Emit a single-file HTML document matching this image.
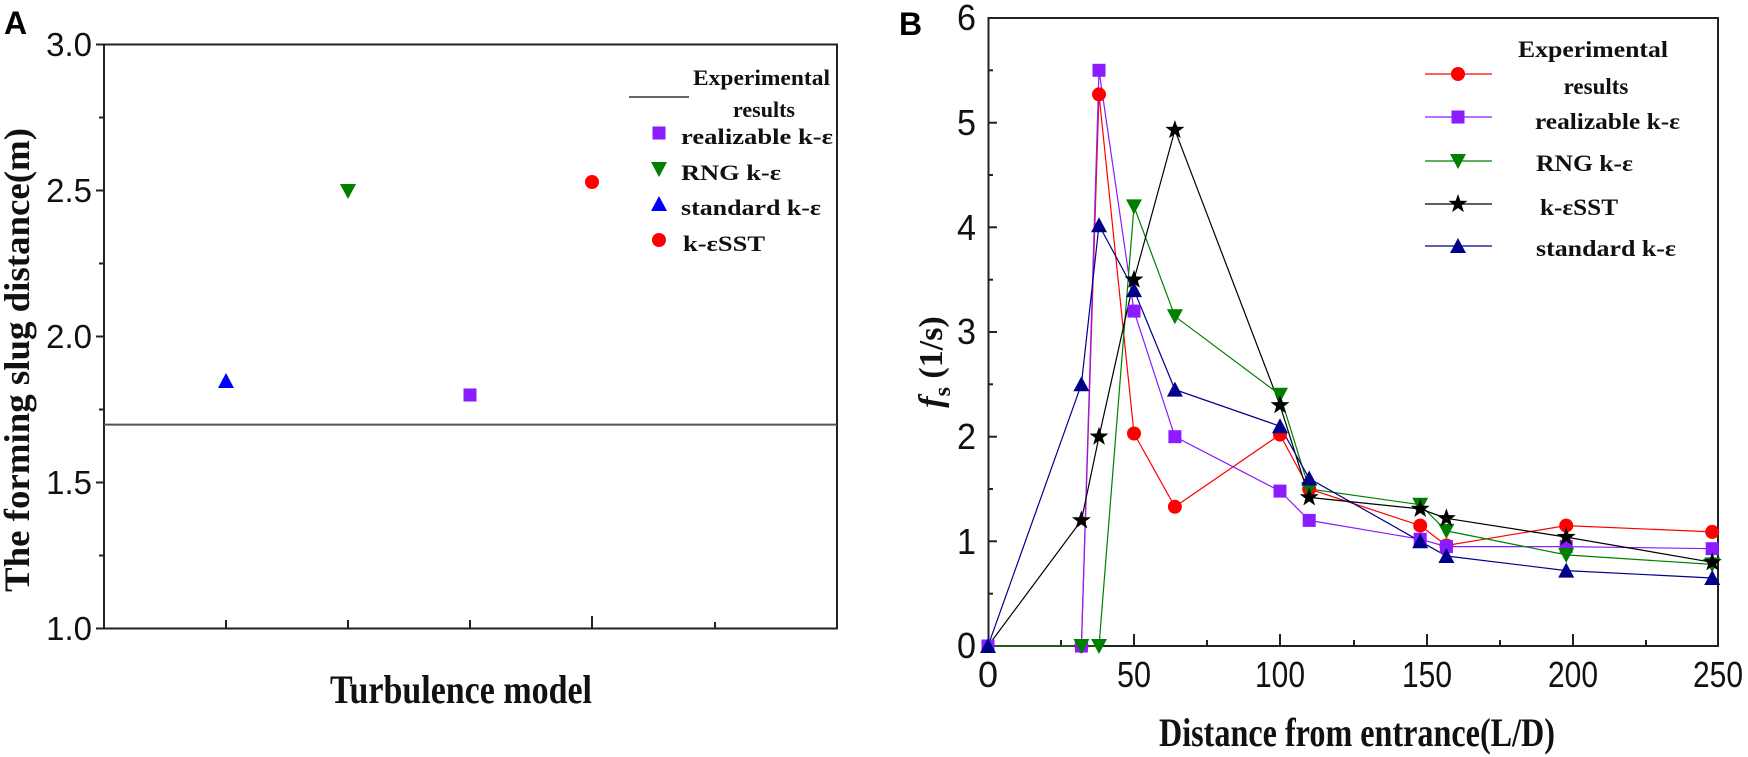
<!DOCTYPE html>
<html><head><meta charset="utf-8"><style>html,body{margin:0;padding:0;background:#fff}svg{display:block}</style></head>
<body>
<svg width="1748" height="757" viewBox="0 0 1748 757" xmlns="http://www.w3.org/2000/svg">
<defs>
<g id="ci"><circle cx="0" cy="0" r="7" fill="#ff0000"/></g>
<g id="sq"><rect x="-6.5" y="-6.5" width="13" height="13" fill="#8a1cff"/></g>
<g id="dt"><polygon points="-8,-7 8,-7 0,8" fill="#008000"/></g>
<g id="ut"><polygon points="-8,7 8,7 0,-8" fill="#00008b"/></g>
<g id="ut2"><polygon points="-8,7 8,7 0,-8" fill="#0000ff"/></g>
<g id="st"><polygon points="0,-10 2.35,-3.2 9.5,-3.1 3.8,1.2 5.9,8.1 0,4 -5.9,8.1 -3.8,1.2 -9.5,-3.1 -2.35,-3.2" fill="#000"/></g>
</defs>

<!-- Panel A -->
<text x="4" y="34" font-family="Liberation Sans, sans-serif" font-weight="bold" font-size="32">A</text>
<rect x="104" y="44.5" width="733" height="584" fill="none" stroke="#222" stroke-width="2"/>
<g stroke="#222" stroke-width="2">
<line x1="96" y1="44.5" x2="104" y2="44.5"/><line x1="96" y1="190.5" x2="104" y2="190.5"/><line x1="96" y1="336.5" x2="104" y2="336.5"/><line x1="96" y1="482.5" x2="104" y2="482.5"/><line x1="96" y1="628.5" x2="104" y2="628.5"/>
<line x1="99" y1="117.5" x2="104" y2="117.5"/><line x1="99" y1="263.5" x2="104" y2="263.5"/><line x1="99" y1="409.5" x2="104" y2="409.5"/><line x1="99" y1="555.5" x2="104" y2="555.5"/>
<line x1="226" y1="620" x2="226" y2="628"/><line x1="348" y1="620" x2="348" y2="628"/><line x1="470" y1="620" x2="470" y2="628"/><line x1="592" y1="616" x2="592" y2="628"/><line x1="715" y1="622" x2="715" y2="628"/>
</g>
<g font-family="Liberation Sans, sans-serif" font-size="33" text-anchor="end" fill="#111">
<text x="92" y="56">3.0</text><text x="92" y="202">2.5</text><text x="92" y="348">2.0</text><text x="92" y="494">1.5</text><text x="92" y="640">1.0</text>
</g>
<line x1="104" y1="424.6" x2="837" y2="424.6" stroke="#555" stroke-width="2"/>
<use href="#ut2" x="226" y="381"/>
<use href="#dt" x="348" y="191"/>
<use href="#sq" x="470" y="395"/>
<use href="#ci" x="592" y="182"/>
<g font-family="Liberation Serif, serif" font-weight="bold" font-size="22" fill="#111">
<line x1="629" y1="97" x2="689" y2="97" stroke="#666" stroke-width="2"/>
<text x="693" y="85" textLength="137" lengthAdjust="spacingAndGlyphs">Experimental</text>
<text x="764" y="117" text-anchor="middle">results</text>
<use href="#sq" x="659" y="133"/><text x="681" y="144" textLength="152" lengthAdjust="spacingAndGlyphs">realizable k-ε</text>
<use href="#dt" x="659" y="169"/><text x="681" y="180" textLength="100" lengthAdjust="spacingAndGlyphs">RNG k-ε</text>
<use href="#ut2" x="659" y="204"/><text x="681" y="215" textLength="140" lengthAdjust="spacingAndGlyphs">standard k-ε</text>
<use href="#ci" x="659" y="240"/><text x="683" y="251" textLength="82" lengthAdjust="spacingAndGlyphs">k-εSST</text>
</g>
<text transform="translate(29,360) rotate(-90)" text-anchor="middle" font-family="Liberation Serif, serif" font-weight="bold" font-size="36" textLength="464" lengthAdjust="spacingAndGlyphs" fill="#111">The forming slug distance(m)</text>
<text x="330" y="703" font-family="Liberation Serif, serif" font-weight="bold" font-size="40" textLength="262" lengthAdjust="spacingAndGlyphs" fill="#111">Turbulence model</text>

<!-- Panel B -->
<text x="899" y="35" font-family="Liberation Sans, sans-serif" font-weight="bold" font-size="32">B</text>
<rect x="988.5" y="18" width="729.5" height="628" fill="none" stroke="#222" stroke-width="2"/>
<g stroke="#222" stroke-width="2">
<line x1="988" y1="122.7" x2="997" y2="122.7"/><line x1="988" y1="227.3" x2="997" y2="227.3"/><line x1="988" y1="332" x2="997" y2="332"/><line x1="988" y1="436.7" x2="997" y2="436.7"/><line x1="988" y1="541.3" x2="997" y2="541.3"/>
<line x1="988" y1="70.3" x2="993" y2="70.3"/><line x1="988" y1="175" x2="993" y2="175"/><line x1="988" y1="279.7" x2="993" y2="279.7"/><line x1="988" y1="384.3" x2="993" y2="384.3"/><line x1="988" y1="489" x2="993" y2="489"/><line x1="988" y1="593.7" x2="993" y2="593.7"/>
<line x1="1134" y1="634" x2="1134" y2="646"/><line x1="1280" y1="634" x2="1280" y2="646"/><line x1="1427" y1="634" x2="1427" y2="646"/><line x1="1573" y1="634" x2="1573" y2="646"/>
<line x1="1061" y1="640" x2="1061" y2="646"/><line x1="1207" y1="640" x2="1207" y2="646"/><line x1="1354" y1="640" x2="1354" y2="646"/><line x1="1500" y1="640" x2="1500" y2="646"/><line x1="1646" y1="640" x2="1646" y2="646"/>
</g>
<g font-family="Liberation Sans, sans-serif" font-size="36" fill="#111">
<g text-anchor="end">
<text x="976" y="30" textLength="19" lengthAdjust="spacingAndGlyphs">6</text><text x="976" y="135" textLength="19" lengthAdjust="spacingAndGlyphs">5</text><text x="976" y="240" textLength="19" lengthAdjust="spacingAndGlyphs">4</text><text x="976" y="344" textLength="19" lengthAdjust="spacingAndGlyphs">3</text><text x="976" y="449" textLength="19" lengthAdjust="spacingAndGlyphs">2</text><text x="976" y="554" textLength="19" lengthAdjust="spacingAndGlyphs">1</text><text x="976" y="658" textLength="19" lengthAdjust="spacingAndGlyphs">0</text>
</g>
<g text-anchor="middle">
<text x="988" y="687">0</text><text x="1134" y="687" textLength="34" lengthAdjust="spacingAndGlyphs">50</text><text x="1280" y="687" textLength="50" lengthAdjust="spacingAndGlyphs">100</text><text x="1427" y="687" textLength="50" lengthAdjust="spacingAndGlyphs">150</text><text x="1573" y="687" textLength="50" lengthAdjust="spacingAndGlyphs">200</text><text x="1718" y="687" textLength="50" lengthAdjust="spacingAndGlyphs">250</text>
</g>
</g>
<text transform="translate(942,362) rotate(-90)" text-anchor="middle" font-family="Liberation Serif, serif" font-weight="bold" font-size="34" fill="#111"><tspan font-style="italic">f</tspan><tspan font-size="24" dy="8">s</tspan><tspan dy="-8"> (1/s)</tspan></text>
<text x="1159" y="746" font-family="Liberation Serif, serif" font-weight="bold" font-size="40" textLength="396" lengthAdjust="spacingAndGlyphs" fill="#111">Distance from entrance(L/D)</text>

<g fill="none" stroke-width="1.2">
<polyline stroke="#ff0000" points="988,646 1081.4,646 1099,94.4 1134,433.5 1174.9,506.8 1280,434.6 1309.2,489 1420.2,525.6 1446.4,545.5 1566.2,525.6 1712.2,531.9"/>
<polyline stroke="#8a1cff" points="988,646 1081.4,646 1099,70.3 1134,311.1 1174.9,436.7 1280,491.1 1309.2,520.4 1420.2,539.2 1446.4,546.6 1566.2,546.6 1712.2,548.7"/>
<polyline stroke="#008000" points="988,646 1081.4,646 1099,646 1134,206.4 1174.9,316.3 1280,394.8 1309.2,489 1420.2,504.7 1446.4,530.9 1566.2,554.9 1712.2,564.4"/>
<polyline stroke="#000" points="988,646 1081.4,520.4 1099,436.7 1134,279.7 1174.9,130 1280,405.3 1309.2,497.4 1420.2,508.9 1446.4,518.3 1566.2,537.1 1712.2,562.3"/>
<polyline stroke="#00008b" points="988,646 1081.4,384.3 1099,225.2 1134,290.1 1174.9,389.6 1280,426.2 1309.2,478.5 1420.2,541.3 1446.4,556 1566.2,570.6 1712.2,578"/>
</g>
<g>
<use href="#ci" x="1081.4" y="646"/><use href="#ci" x="1099" y="94.4"/><use href="#ci" x="1134" y="433.5"/><use href="#ci" x="1174.9" y="506.8"/><use href="#ci" x="1280" y="434.6"/><use href="#ci" x="1309.2" y="489"/><use href="#ci" x="1420.2" y="525.6"/><use href="#ci" x="1446.4" y="545.5"/><use href="#ci" x="1566.2" y="525.6"/><use href="#ci" x="1712.2" y="531.9"/>
<use href="#sq" x="988" y="646"/><use href="#sq" x="1081.4" y="646"/><use href="#sq" x="1099" y="70.3"/><use href="#sq" x="1134" y="311.1"/><use href="#sq" x="1174.9" y="436.7"/><use href="#sq" x="1280" y="491.1"/><use href="#sq" x="1309.2" y="520.4"/><use href="#sq" x="1420.2" y="539.2"/><use href="#sq" x="1446.4" y="546.6"/><use href="#sq" x="1566.2" y="546.6"/><use href="#sq" x="1712.2" y="548.7"/>
<use href="#dt" x="1081.4" y="646"/><use href="#dt" x="1099" y="646"/><use href="#dt" x="1134" y="206.4"/><use href="#dt" x="1174.9" y="316.3"/><use href="#dt" x="1280" y="394.8"/><use href="#dt" x="1309.2" y="489"/><use href="#dt" x="1420.2" y="504.7"/><use href="#dt" x="1446.4" y="530.9"/><use href="#dt" x="1566.2" y="554.9"/><use href="#dt" x="1712.2" y="564.4"/>
<use href="#ut" x="988" y="646"/><use href="#ut" x="1081.4" y="384.3"/><use href="#ut" x="1099" y="225.2"/><use href="#ut" x="1134" y="290.1"/><use href="#ut" x="1174.9" y="389.6"/><use href="#ut" x="1280" y="426.2"/><use href="#ut" x="1309.2" y="478.5"/><use href="#ut" x="1420.2" y="541.3"/><use href="#ut" x="1446.4" y="556"/><use href="#ut" x="1566.2" y="570.6"/><use href="#ut" x="1712.2" y="578"/>
<use href="#st" x="1081.4" y="520.4"/><use href="#st" x="1099" y="436.7"/><use href="#st" x="1134" y="279.7"/><use href="#st" x="1174.9" y="130"/><use href="#st" x="1280" y="405.3"/><use href="#st" x="1309.2" y="497.4"/><use href="#st" x="1420.2" y="508.9"/><use href="#st" x="1446.4" y="518.3"/><use href="#st" x="1566.2" y="537.1"/><use href="#st" x="1712.2" y="562.3"/>
</g>

<g font-family="Liberation Serif, serif" font-weight="bold" font-size="23" fill="#111">
<line x1="1425" y1="74" x2="1492" y2="74" stroke="#ff0000" stroke-width="1.2"/><use href="#ci" x="1458" y="74"/>
<text x="1593" y="57" text-anchor="middle" textLength="150" lengthAdjust="spacingAndGlyphs">Experimental</text>
<text x="1596" y="94" text-anchor="middle">results</text>
<line x1="1425" y1="117" x2="1492" y2="117" stroke="#8a1cff" stroke-width="1.2"/><use href="#sq" x="1458" y="117"/>
<text x="1535" y="129" textLength="145" lengthAdjust="spacingAndGlyphs">realizable k-ε</text>
<line x1="1425" y1="161" x2="1492" y2="161" stroke="#008000" stroke-width="1.2"/><use href="#dt" x="1458" y="161"/>
<text x="1536" y="171" textLength="97" lengthAdjust="spacingAndGlyphs">RNG k-ε</text>
<line x1="1425" y1="204" x2="1492" y2="204" stroke="#000" stroke-width="1.2"/><use href="#st" x="1458" y="204"/>
<text x="1540" y="215" textLength="78" lengthAdjust="spacingAndGlyphs">k-εSST</text>
<line x1="1425" y1="246" x2="1492" y2="246" stroke="#00008b" stroke-width="1.2"/><use href="#ut" x="1458" y="246"/>
<text x="1536" y="256" textLength="140" lengthAdjust="spacingAndGlyphs">standard k-ε</text>
</g>
</svg>
</body></html>
